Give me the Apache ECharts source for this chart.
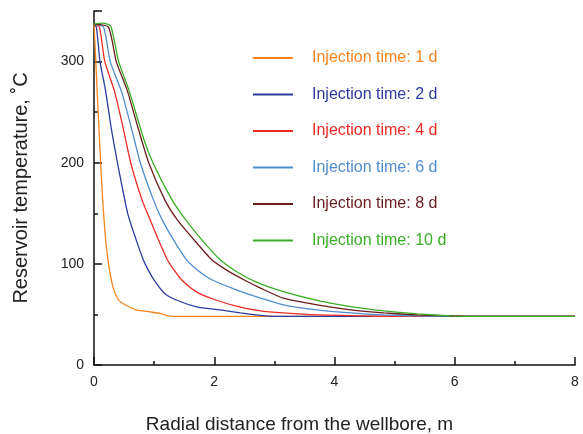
<!DOCTYPE html>
<html>
<head>
<meta charset="utf-8">
<script src="https://cdn.jsdelivr.net/npm/echarts@6/dist/echarts.min.js"></script>
<style>
  html, body { margin: 0; padding: 0; background: #fff; }
  #chart { width: 583px; height: 434px; }
</style>
</head>
<body>
<div id="chart"></div>
<script>
// injection times and line colours
var seriesNames = ['Injection time: 1 d', 'Injection time: 2 d', 'Injection time: 4 d',
                   'Injection time: 6 d', 'Injection time: 8 d', 'Injection time: 10 d']
var colors = ['#f7841f', '#2b3c9e', '#ee2a22', '#4f8dcf', '#6b1c1c', '#3aae24']

// [radial distance m, temperature C]
var day1 = [[0,337],[0.01,325],[0.03,300],[0.055,267],[0.09,225],[0.11,200],[0.15,158],[0.19,126],
            [0.23,105],[0.27,90],[0.32,76],[0.4,65],[0.5,60],[0.7,54.5],[0.93,52.5],[1.1,51],[1.2,49],[1.3,48],[8,48]]
var day2 = [[0,337],[0.04,334],[0.1,300],[0.19,272],[0.29,233],[0.39,200],[0.56,150],[0.7,124],[0.82,104],
            [0.9,94],[1.0,84],[1.17,71],[1.38,64],[1.71,57.5],[2.1,54.5],[2.43,51.5],[2.77,49],[3.0,48],[8,48]]
var day4 = [[0,337],[0.09,334],[0.18,300],[0.34,271],[0.49,233],[0.61,200],[0.8,163],[0.93,144],
            [1.07,124],[1.22,104],[1.33,94],[1.46,84],[1.71,72],[1.99,65],[2.38,58],[2.77,53.5],[3.15,51.5],[3.71,49.5],[4.3,48.8],[4.85,48],[8,48]]
var day6 = [[0,337],[0.16,334],[0.27,300],[0.46,270],[0.64,230],[0.77,200],[0.99,163],[1.13,144],[1.32,124],
            [1.54,104],[1.74,93],[1.97,84],[2.38,74],[2.72,67],[3.15,59.5],[3.71,54.5],[4.27,51.5],[4.82,49.5],[5.4,48.5],[6,48],[8,48]]
var day8 = [[0,337],[0.24,334],[0.37,300],[0.55,272],[0.74,233],[0.91,200],[1.18,163],[1.38,144],
            [1.66,124],[1.96,104],[2.2,94],[2.5,84],[2.77,76],[3.15,66],[3.71,59.4],[4.27,54.5],[4.82,51.5],[5.38,49.5],[5.93,48.5],[6.3,48],[8,48]]
var day10 = [[0,337],[0.15,338],[0.28,335],[0.41,300],[0.58,272],[0.83,223],[0.98,200],[1.3,163],
             [1.52,144],[1.79,124],[2.1,104],[2.38,92],[2.7,82],[3.15,72.6],[3.71,64],[4.27,57.7],[4.82,53.5],[5.38,50.5],[5.93,48.5],[6.3,48],[8,48]]
var seriesData = [day1, day2, day4, day6, day8, day10]

var myChart = echarts.init(document.getElementById('chart'))

var option = {
    animation: false,
    grid: { left: 94, right: 8, top: 11, bottom: 69, outerBoundsMode: 'none' },
    legend: {
        orient: 'vertical',
        left: 248,
        top: 45,
        itemWidth: 40,
        itemHeight: 2,
        itemGap: 20.5,
        icon: 'rect',
        textStyle: { fontSize: 16, fontFamily: 'Liberation Sans', padding: [0, 0, 0, 14] },
        data: seriesNames.map(function (n, i) {
            return { name: n, textStyle: { color: colors[i] } }
        })
    },
    xAxis: {
        type: 'value',
        min: 0, max: 8, interval: 2,
        name: 'Radial distance from the wellbore, m',
        nameLocation: 'middle',
        nameGap: 50,
        nameTextStyle: { fontSize: 19, color: '#222', fontFamily: 'Liberation Sans', padding: [0, 70, 0, 0] },
        axisLine: { lineStyle: { color: '#111', width: 1.5 } },
        axisTick: { inside: true, length: 8, lineStyle: { color: '#111', width: 1.5 } },
        minorTick: { show: true, splitNumber: 2, length: 4, lineStyle: { color: '#111', width: 1.5 } },
        axisLabel: { fontSize: 14, color: '#222', margin: 10, fontFamily: 'Liberation Sans' },
        splitLine: { show: false }
    },
    yAxis: {
        type: 'value',
        min: 0, max: 350, interval: 100,
        name: 'Reservoir temperature, ˚C',
        nameLocation: 'middle',
        nameGap: 63,
        nameTextStyle: { fontSize: 20, color: '#222', fontFamily: 'Liberation Sans' },
        axisLine: { show: true, lineStyle: { color: '#111', width: 1.5 } },
        axisTick: { show: true, inside: true, length: 8, lineStyle: { color: '#111', width: 1.5 } },
        minorTick: { show: true, splitNumber: 2, length: 4, lineStyle: { color: '#111', width: 1.5 } },
        axisLabel: { fontSize: 14, color: '#222', margin: 10, showMaxLabel: false, fontFamily: 'Liberation Sans' },
        splitLine: { show: false }
    },
    series: seriesNames.map(function (n, i) {
        return {
            name: n,
            type: 'line',
            data: seriesData[i],
            showSymbol: false,
            smooth: 0.2,
            color: colors[i],
            lineStyle: { width: 1.3, color: colors[i] },
            z: i
        }
    })
}

myChart.setOption(option)
</script>
</body>
</html>
